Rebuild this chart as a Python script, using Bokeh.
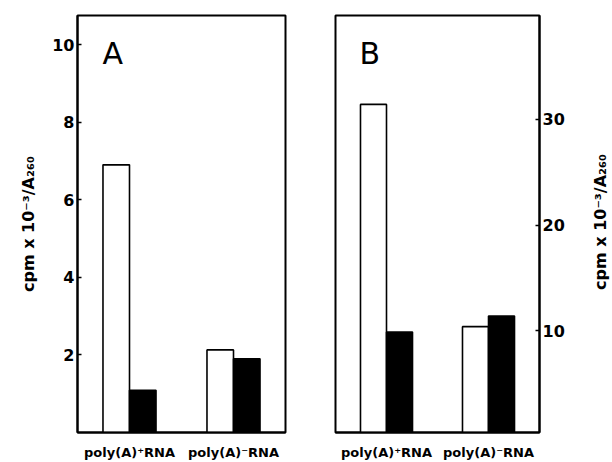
import math
from bokeh.plotting import figure
from bokeh.layouts import row
from bokeh.models import Range1d, FactorRange, ColumnDataSource, Label, FixedTicker
from bokeh.transform import dodge
from bokeh.embed import file_html
from bokeh.resources import INLINE

categories = ["poly(A)⁺RNA", "poly(A)⁻RNA"]
a_open = [6.9, 2.13]
a_filled = [1.09, 1.9]
b_open = [31.4, 10.4]
b_filled = [9.9, 11.4]
a_ticks = [2, 4, 6, 8, 10]
b_ticks = [10, 20, 30]
y_label = "cpm x 10⁻³/A₂₆₀"

FONT = "DejaVu Sans"
BAR_W = 0.255


def panel(open_vals, filled_vals, y_start, y_end, ticks, side, letter,
          letter_x, letter_y, width, border_left, border_right):
    src = ColumnDataSource(dict(cat=categories, open=open_vals, filled=filled_vals))
    p = figure(x_range=FactorRange(factors=categories, range_padding=0),
               y_range=Range1d(y_start, y_end),
               width=width, height=462, output_backend="svg",
               toolbar_location=None, y_axis_location=side,
               min_border_left=border_left, min_border_right=border_right,
               min_border_top=15, min_border_bottom=29)
    p.vbar(x=dodge("cat", -BAR_W / 2, range=p.x_range), top="open", bottom=0,
           width=BAR_W, source=src, fill_color="white", line_color="black",
           line_width=1.6)
    p.vbar(x=dodge("cat", BAR_W / 2, range=p.x_range), top="filled", bottom=0,
           width=BAR_W, source=src, fill_color="black", line_color="black",
           line_width=1.6)
    p.grid.visible = False
    p.outline_line_color = "black"
    p.outline_line_width = 2
    p.outline_line_alpha = 1
    p.background_fill_color = "white"
    p.border_fill_color = "white"

    xa = p.xaxis[0]
    xa.axis_line_width = 2
    xa.major_tick_line_color = None
    xa.minor_tick_line_color = None
    xa.major_label_text_font = FONT
    xa.major_label_text_font_style = "bold"
    xa.major_label_text_font_size = "13px"
    xa.major_label_text_color = "black"
    xa.major_label_standoff = 6

    ya = p.yaxis[0]
    ya.ticker = FixedTicker(ticks=ticks)
    ya.axis_line_width = 2
    ya.major_tick_in = 4
    ya.major_tick_out = 0
    ya.major_tick_line_width = 1.5
    ya.minor_tick_line_color = None
    ya.major_label_text_font = FONT
    ya.major_label_text_font_style = "bold"
    ya.major_label_text_font_size = "16px"
    ya.major_label_text_color = "black"
    ya.major_label_standoff = 3

    p.add_layout(Label(x=letter_x, y=letter_y, text=letter, text_font=FONT,
                       text_font_size="30px", text_color="black",
                       text_baseline="alphabetic"))
    return p


pa = panel(a_open, a_filled, 0, 10.75, a_ticks, "left", "A",
           0.24, 9.77, 304, 77, 19)
ya = pa.yaxis[0]
ya.axis_label = y_label
ya.axis_label_text_font = FONT
ya.axis_label_text_font_style = "bold"
ya.axis_label_text_font_size = "16px"
ya.axis_label_text_color = "black"
ya.axis_label_standoff = 11

pb = panel(b_open, b_filled, 0.4, 39.8, b_ticks, "right", "B",
           0.235, 36.2, 265, 31, 30)

# narrow strip holding the right-hand axis title, reading bottom-to-top
pc = figure(width=43, height=462, x_range=Range1d(0, 1), y_range=Range1d(0, 1),
            output_backend="svg", toolbar_location=None,
            x_axis_location=None, y_axis_location=None, min_border=0)
pc.grid.visible = False
pc.outline_line_color = None
pc.background_fill_color = "white"
pc.border_fill_color = "white"
pc.add_layout(Label(x=0.72, y=0.505, text=y_label, angle=math.pi / 2,
                    text_font=FONT, text_font_style="bold",
                    text_font_size="16px", text_color="black",
                    text_align="center", text_baseline="middle"))

layout = row(pa, pb, pc)
open("out.html", "w").write(file_html(layout, INLINE))
